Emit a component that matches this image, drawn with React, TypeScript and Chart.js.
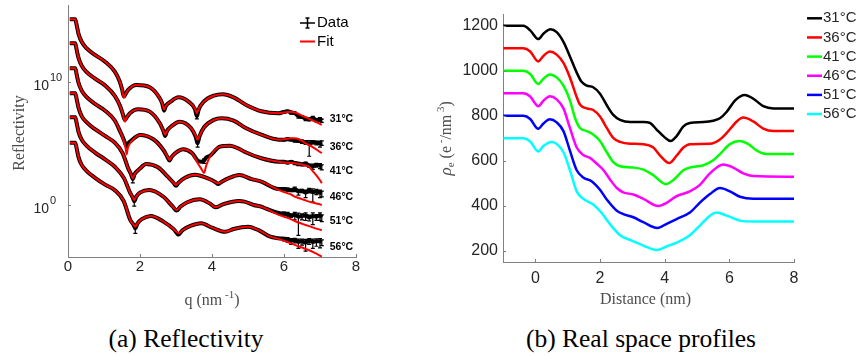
import React, { useEffect, useRef } from "react";
import { Chart, registerables } from "chart.js";

Chart.register(...registerables);

// ---------------- data ----------------
const temperatures = ["31°C", "36°C", "41°C", "46°C", "51°C", "56°C"];

// (a) Reflectivity: q in nm^-1, values as log10(R) (curves offset in the figure)
const q31 = [0.05,0.2,0.24,0.29,0.38,0.52,0.75,1.03,1.3,1.44, 1.5,1.55,1.6,1.67,1.9,2.27,2.55,2.62,2.67,2.72, 2.85,3.07,3.35,3.53,3.58,3.63,3.77,4.05,4.3,4.6, 4.95,5.37,5.85,6.0,6.1,6.2,6.3,6.4,6.5,6.6, 6.7,6.8,6.9,7.0,7.05];
const fit31 = [15.06,15.06,14.6,13.9,13.24,12.7,12.17,11.62,10.81,10.0, 9.4,8.7,9.0,9.33,9.73,9.55,8.65,8.2,7.75,8.05, 8.38,8.73,8.38,7.8,7.44,7.8,8.38,8.86,8.98,8.73, 8.11,7.6,7.44,7.5,7.55,7.57,7.5,7.4,7.25,7.12, 6.98,6.85,6.72,6.58,6.49];
const data31 = [15.06,15.06,14.6,13.9,13.24,12.7,12.17,11.62,10.81,10.0, 9.4,8.8,9.0,9.33,9.73,9.55,8.65,8.2,7.65,8.05, 8.38,8.73,8.38,7.75,7.2,7.75,8.38,8.86,8.98,8.73, 8.11,7.6,7.44,7.55,7.6,7.5,7.45,7.2,7.15,7.0, 6.95,7.05,6.9,6.95,6.85];
const err31 = [0,0,0,0,0,0,0,0,0,0, 0,0,0,0,0,0,0,0,0,0, 0,0,0,0,0.4,0,0,0,0,0, 0,0,0,0.2,0.2,0.25,0.2,0.3,0.25,0.3, 0.25,0.35,0.3,0.35,0.3];

const q36 = [0.05,0.2,0.24,0.29,0.38,0.52,0.75,1.03,1.3,1.45, 1.53,1.58,1.63,1.72,1.95,2.27,2.55,2.65,2.7,2.75, 2.88,3.1,3.42,3.55,3.6,3.65,3.78,4.05,4.27,4.6, 4.95,5.37,5.85,6.0,6.1,6.2,6.3,6.4,6.5,6.6, 6.7,6.8,6.9,7.0,7.05];
const fit36 = [13.11,13.11,12.6,11.95,11.3,10.77,10.25,9.7,8.85,8.0, 7.3,6.75,7.1,7.44,7.76,7.57,6.63,6.0,5.7,6.0, 6.4,6.76,6.22,5.6,5.3,5.6,6.3,6.9,7.03,6.84, 6.22,5.7,5.3,5.33,5.38,5.41,5.41,5.35,5.2,5.0, 4.85,4.7,4.5,4.3,4.2];
const data36 = [13.11,13.11,12.6,11.95,11.3,10.77,10.25,9.7,8.85,8.0, 7.3,6.9,7.1,7.44,7.76,7.57,6.63,6.0,5.6,6.0, 6.4,6.76,6.22,5.5,5.0,5.55,6.3,6.9,7.03,6.84, 6.22,5.7,5.3,5.3,5.35,5.3,5.25,5.2,5.15,5.1, 4.95,5.1,5.05,5.0,5.05];
const err36 = [0,0,0,0,0,0,0,0,0,0, 0,0,0,0,0,0,0,0,0,0, 0,0,0,0,0.5,0,0,0,0,0, 0,0,0,0.2,0.25,0.2,0.3,0.25,0.3,0.35, 0.9,0.3,0.35,0.5,0.4];

const q41 = [0.05,0.2,0.24,0.29,0.38,0.52,0.75,1.03,1.3,1.45, 1.55,1.6,1.63,1.66,1.75,2.0,2.37,2.65,2.76,2.82, 2.88,3.0,3.2,3.45,3.6,3.7,3.78,3.84,3.95,4.22, 4.5,4.76,4.9,5.37,5.85,6.0,6.1,6.2,6.3,6.4, 6.5,6.6,6.7,6.8,6.9,7.0,7.05];
const fit41 = [11.09,11.09,10.6,9.93,9.27,8.75,8.2,7.65,6.85,5.95, 5.2,4.6,4.1,4.6,5.1,5.68,5.33,4.46,3.95,3.65, 3.9,4.25,4.52,4.19,3.4,2.95,2.6,3.2,3.95,4.73, 4.81,4.54,4.32,3.79,3.51,3.45,3.42,3.4,3.38,3.33, 3.28,3.2,3.08,2.75,2.4,2.0,1.76];
const data41 = [11.09,11.09,10.6,9.93,9.27,8.75,8.2,7.65,6.85,5.95, 5.3,4.9,4.75,4.95,5.2,5.68,5.33,4.46,3.9,3.6, 3.9,4.25,4.52,4.19,3.6,3.5,3.6,3.85,4.0,4.73, 4.81,4.54,4.32,3.79,3.51,3.5,3.45,3.5,3.4,3.35, 3.3,3.35,3.2,3.15,3.25,3.2,3.1];
const err41 = [0,0,0,0,0,0,0,0,0,0, 0,0,0,0,0,0,0,0,0,0, 0,0,0,0,0,0,0.4,0,0,0, 0,0,0,0,0,0.2,0.25,0.2,0.25,0.3, 0.25,0.35,0.3,0.45,0.35,0.45,0.45];

const q46 = [0.05,0.2,0.24,0.29,0.38,0.52,0.75,1.03,1.3,1.52, 1.67,1.75,1.8,1.85,2.0,2.17,2.5,2.77,2.93,3.0, 3.07,3.25,3.53,3.87,4.1,4.17,4.25,4.45,4.76,5.1, 5.37,5.85,6.0,6.1,6.2,6.3,6.4,6.5,6.6,6.7, 6.8,6.9,7.0,7.05];
const fit46 = [9.06,9.06,8.6,7.9,7.2,6.7,6.15,5.6,5.05,4.19, 2.98,2.5,2.17,2.5,2.95,3.33,3.06,2.3,1.8,1.62, 1.8,2.2,2.45,2.17,1.85,1.76,1.85,2.15,2.43,2.1, 1.89,1.22,1.05,0.95,0.85,0.67,0.57,0.47,0.37,0.27, 0.2,0.12,0.05,0.0];
const data46 = [9.06,9.06,8.6,7.9,7.2,6.7,6.15,5.6,5.05,4.19, 2.98,2.5,2.1,2.5,2.95,3.33,3.06,2.3,1.8,1.55, 1.8,2.2,2.45,2.17,1.85,1.7,1.85,2.15,2.43,2.1, 1.89,1.3,1.3,1.25,1.2,1.3,1.1,1.15,1.0,1.2, 1.05,1.1,1.0,0.95];
const err46 = [0,0,0,0,0,0,0,0,0,0, 0,0,0.5,0,0,0,0,0,0,0, 0,0,0,0,0,0,0,0,0,0, 0,0,0.25,0.3,0.25,0.4,0.5,0.3,0.6,0.4, 0.85,0.45,0.6,0.5];

const q51 = [0.05,0.2,0.24,0.29,0.38,0.52,0.75,1.03,1.3,1.55, 1.73,1.8,1.84,1.9,2.0,2.26,2.65,2.9,3.02,3.12, 3.3,3.66,3.96,4.1,4.3,4.75,4.9,5.16,5.37,5.5, 5.85,6.0,6.1,6.2,6.3,6.4,6.5,6.6,6.7,6.8, 6.9,7.0,7.05];
const fit51 = [7.11,7.11,6.65,5.95,5.3,4.8,4.25,3.7,3.1,2.2, 0.96,0.6,0.41,0.7,1.0,1.22,0.67,-0.1,-0.4,-0.15, 0.2,0.46,0.08,-0.19,0.05,0.33,0.27,0.0,-0.14,-0.3, -0.8,-0.95,-1.05,-1.17,-1.3,-1.42,-1.52,-1.62,-1.72,-1.82, -1.92,-2.0,-2.05];
const data51 = [7.11,7.11,6.65,5.95,5.3,4.8,4.25,3.7,3.1,2.2, 0.96,0.6,0.3,0.7,1.0,1.22,0.67,-0.1,-0.45,-0.15, 0.2,0.46,0.08,-0.19,0.05,0.33,0.27,0.0,-0.14,-0.3, -0.65,-0.7,-0.75,-0.85,-0.8,-0.95,-0.9,-0.85,-1.0,-0.9, -0.95,-0.85,-1.0];
const err51 = [0,0,0,0,0,0,0,0,0,0, 0,0,0.6,0,0,0,0,0,0,0, 0,0,0,0,0,0,0,0,0,0, 0,0.3,0.4,0.3,0.6,0.97,0.5,0.6,0.5,0.8, 0.5,0.6,0.55];

const q56 = [0.05,0.2,0.24,0.29,0.38,0.52,0.75,1.03,1.3,1.55, 1.73,1.82,1.87,1.93,2.05,2.3,2.65,2.95,3.07,3.18, 3.4,3.7,4.0,4.37,4.6,5.0,5.33,5.6,5.85,6.0, 6.1,6.2,6.3,6.4,6.5,6.6,6.7,6.8,6.9,7.0, 7.05];
const fit56 = [5.05,5.05,4.6,3.9,3.25,2.75,2.2,1.65,1.2,0.3, -1.22,-1.6,-1.76,-1.5,-1.15,-0.89,-1.35,-2.0,-2.3,-2.05, -1.7,-1.48,-1.84,-2.17,-1.95,-1.76,-2.1,-2.55,-2.75,-2.9, -3.0,-3.12,-3.24,-3.35,-3.45,-3.57,-3.67,-3.8,-3.95,-4.1, -4.19];
const data56 = [5.05,5.05,4.6,3.9,3.25,2.75,2.2,1.65,1.2,0.3, -1.22,-1.6,-1.9,-1.5,-1.15,-0.89,-1.35,-2.0,-2.4,-2.05, -1.7,-1.48,-1.84,-2.17,-1.95,-1.76,-2.1,-2.55,-2.7,-2.75, -2.8,-2.9,-2.85,-3.0,-2.95,-3.05,-2.9,-3.0,-2.95,-2.95, -3.0];
const err56 = [0,0,0,0,0,0,0,0,0,0, 0,0,0.6,0,0,0,0,0,0,0, 0,0,0,0,0,0,0,0,0,0.3, 0.4,0.5,0.4,0.7,0.5,0.8,0.5,0.7,0.6,0.7, 0.5];

// temperature annotation anchors (q, log10 R)
const tempLabelQ = 7.27;
const tempLabelLevels = [6.97, 4.7, 2.76, 0.65, -1.3, -3.4];

const reflXTicks = [0, 2, 4, 6, 8];
const reflYExponents = [0, 10];
const reflYMinExp = -4.22;
const reflYMaxExp = 16.22;

// (b) Real space profiles: distance (nm), electron density (e/nm^3, offset)
const d31 = [-0.99,-0.37,-0.16,0.09,0.25,0.47,0.66,0.87,1.07,1.28,1.43,1.59,1.79,2.0,2.21,2.41,2.62,2.93,3.34,3.55,3.75,4.01,4.19,4.37,4.58,4.78,5.2,5.5,5.71,5.92,6.18,6.48,6.74,7.05,7.36,8.0];
const rho31 = [1200,1200,1180,1141,1165,1185,1172,1129,1064,992,951,934,927,898,847,804,782,772,772,768,739,703,688,710,753,768,772,778,789,818,869,893,876,843,833,833];
const d36 = [-0.99,-0.37,-0.16,0.09,0.25,0.45,0.66,0.87,1.07,1.28,1.38,1.59,1.79,2.0,2.21,2.41,2.62,2.93,3.34,3.65,3.86,4.14,4.37,4.58,4.78,5.4,5.71,5.92,6.23,6.43,6.74,7.05,7.36,8.0];
const rho36 = [1100,1100,1086,1042,1066,1086,1072,1035,970,883,850,833,826,797,746,702,684,676,674,659,623,590,623,659,674,676,695,724,775,792,775,743,732,732];
const d41 = [-0.99,-0.37,-0.16,0.09,0.25,0.45,0.66,0.87,1.07,1.23,1.38,1.59,1.79,2.0,2.21,2.41,2.62,3.03,3.34,3.65,4.04,4.27,4.58,4.78,5.2,5.5,5.71,6.02,6.31,6.59,6.85,7.16,8.0];
const rho41 = [1000,1000,986,941,965,984,971,934,869,789,746,732,717,688,638,594,576,570,561,536,496,515,558,570,580,602,630,674,688,674,645,630,630];
const d46 = [-0.99,-0.37,-0.16,0.09,0.25,0.45,0.66,0.87,1.07,1.28,1.48,1.69,1.9,2.11,2.32,2.52,2.72,3.03,3.34,3.8,4.06,4.37,4.78,5.09,5.4,5.81,6.12,6.43,6.74,8.0];
const rho46 = [900,900,886,843,867,887,873,833,746,659,626,613,587,558,515,479,460,450,431,399,413,443,464,493,544,584,570,544,532,529];
const d51 = [-0.99,-0.37,-0.16,0.09,0.25,0.45,0.66,0.87,1.07,1.28,1.48,1.75,2.0,2.21,2.52,2.72,3.03,3.34,3.77,4.06,4.37,4.78,5.09,5.4,5.71,6.02,6.33,6.74,8.0];
const rho51 = [800,800,786,742,766,785,771,732,645,558,526,508,471,428,378,363,349,327,301,320,341,370,414,452,479,464,440,431,431];
const d56 = [-0.99,-0.37,-0.16,0.09,0.25,0.5,0.87,1.07,1.28,1.48,1.79,2.04,2.3,2.62,2.93,3.34,3.75,4.06,4.47,4.78,5.09,5.4,5.61,5.92,6.33,6.74,8.0];
const rho56 = [700,700,686,641,666,684,638,558,464,431,406,370,320,269,248,223,203,219,243,269,312,356,370,356,334,330,330];

const profColors = ["#000000", "#ff0000", "#00ff00", "#ff00ff", "#0000ff", "#00ffff"];
const profXTicks = [0, 2, 4, 6, 8];
const profYTicks = [200, 400, 600, 800, 1000, 1200];

// ---------------- styling ----------------
const SANS = "'Liberation Sans', Arial, Helvetica, sans-serif";
const SERIF = "'Liberation Serif', 'Times New Roman', serif";
const AXIS = "#808080";
const TICKTXT = "#262626";
const TITLETXT = "#4d4d4d";

type Run = { t: string; size: number; dy?: number; italic?: boolean };

function drawRuns(ctx: CanvasRenderingContext2D, runs: Run[], cx: number, cy: number, rot: number) {
  ctx.save();
  ctx.translate(cx, cy);
  if (rot) ctx.rotate(rot);
  const fontOf = (r: Run) => `${r.italic ? "italic " : ""}${r.size}px ${SERIF}`;
  let w = 0;
  for (const r of runs) {
    ctx.font = fontOf(r);
    w += ctx.measureText(r.t).width;
  }
  let x = -w / 2;
  ctx.textBaseline = "middle";
  ctx.textAlign = "left";
  for (const r of runs) {
    ctx.font = fontOf(r);
    ctx.fillText(r.t, x, r.dy || 0);
    x += ctx.measureText(r.t).width;
  }
  ctx.restore();
}

const reflCurves = [
  { q: q31, fit: fit31, data: data31, err: err31 },
  { q: q36, fit: fit36, data: data36, err: err36 },
  { q: q41, fit: fit41, data: data41, err: err41 },
  { q: q46, fit: fit46, data: data46, err: err46 },
  { q: q51, fit: fit51, data: data51, err: err51 },
  { q: q56, fit: fit56, data: data56, err: err56 },
];

const profCurves = [
  { d: d31, rho: rho31 },
  { d: d36, rho: rho36 },
  { d: d41, rho: rho41 },
  { d: d46, rho: rho46 },
  { d: d51, rho: rho51 },
  { d: d56, rho: rho56 },
];

function ReflectivityChart() {
  const ref = useRef<HTMLCanvasElement>(null);
  useEffect(() => {
    const canvas = ref.current;
    if (!canvas) return;
    const datasets: any[] = [];
    reflCurves.forEach((c, i) => {
      datasets.push({
        label: "Fit " + temperatures[i],
        data: c.q.map((q, j) => ({ x: q, y: Math.pow(10, c.fit[j]) })),
        borderColor: "#ff0000",
        borderWidth: 2,
        pointRadius: 0,
        cubicInterpolationMode: "monotone",
        fill: false,
        order: 0,
      });
      datasets.push({
        label: "Data " + temperatures[i],
        data: c.q.map((q, j) => ({ x: q, y: Math.pow(10, c.data[j]) })),
        borderColor: "#000000",
        borderWidth: 4,
        pointRadius: 0,
        cubicInterpolationMode: "monotone",
        fill: false,
        order: 1,
      });
    });

    const decor = {
      id: "reflDecor",
      beforeDatasetsDraw(chart: any) {
        const { ctx, chartArea: a } = chart;
        const xs = chart.scales.x;
        const ys = chart.scales.y;
        ctx.save();
        ctx.beginPath();
        ctx.rect(a.left, a.top, a.right - a.left, a.bottom - a.top);
        ctx.clip();
        ctx.strokeStyle = "#000";
        ctx.lineWidth = 1.2;
        reflCurves.forEach((c) => {
          c.q.forEach((q, j) => {
            const e = c.err[j];
            if (!e) return;
            const v = Math.pow(10, c.data[j]);
            const px = xs.getPixelForValue(q);
            const y1 = ys.getPixelForValue(v * (1 + e));
            const y2 = ys.getPixelForValue(v * (1 - e));
            ctx.beginPath();
            ctx.moveTo(px, y1);
            ctx.lineTo(px, y2);
            ctx.moveTo(px - 2, y1);
            ctx.lineTo(px + 2, y1);
            ctx.moveTo(px - 2, y2);
            ctx.lineTo(px + 2, y2);
            ctx.stroke();
          });
        });
        ctx.restore();
      },
      afterDraw(chart: any) {
        const { ctx, chartArea: a } = chart;
        const xs = chart.scales.x;
        const ys = chart.scales.y;
        ctx.save();
        // inward ticks
        ctx.strokeStyle = AXIS;
        ctx.lineWidth = 1;
        reflXTicks.forEach((v) => {
          const px = Math.round(xs.getPixelForValue(v)) + 0.5;
          ctx.beginPath();
          ctx.moveTo(px, a.bottom);
          ctx.lineTo(px, a.bottom - 3);
          ctx.stroke();
        });
        reflYExponents.forEach((e) => {
          const py = Math.round(ys.getPixelForValue(Math.pow(10, e))) + 0.5;
          ctx.beginPath();
          ctx.moveTo(a.left, py);
          ctx.lineTo(a.left + 3, py);
          ctx.stroke();
        });
        // y tick labels 10^n
        ctx.fillStyle = TICKTXT;
        ctx.textBaseline = "middle";
        reflYExponents.forEach((e) => {
          const py = ys.getPixelForValue(Math.pow(10, e));
          ctx.font = `14px ${SANS}`;
          ctx.textAlign = "right";
          ctx.fillText("10", a.left - 19, py + 4);
          ctx.font = `11px ${SANS}`;
          ctx.textAlign = "left";
          ctx.fillText(String(e), a.left - 18, py - 4);
        });
        // axis titles
        ctx.fillStyle = TITLETXT;
        drawRuns(ctx, [{ t: "Reflectivity", size: 16 }], 20, (a.top + a.bottom) / 2 + 2, -Math.PI / 2);
        drawRuns(
          ctx,
          [
            { t: "q (nm", size: 16 },
            { t: " -1", size: 11, dy: -6 },
            { t: ")", size: 16 },
          ],
          (a.left + a.right) / 2,
          301,
          0
        );
        // temperature labels
        ctx.fillStyle = "#000";
        ctx.font = `bold 10.5px ${SANS}`;
        ctx.textAlign = "left";
        ctx.textBaseline = "middle";
        temperatures.forEach((t, i) => {
          ctx.fillText(t, xs.getPixelForValue(tempLabelQ), ys.getPixelForValue(Math.pow(10, tempLabelLevels[i])));
        });
        // legend
        ctx.strokeStyle = "#000";
        ctx.lineWidth = 1.5;
        ctx.beginPath();
        ctx.moveTo(300, 23);
        ctx.lineTo(315, 23);
        ctx.moveTo(307.5, 18);
        ctx.lineTo(307.5, 28);
        ctx.moveTo(305.5, 18);
        ctx.lineTo(309.5, 18);
        ctx.moveTo(305.5, 28);
        ctx.lineTo(309.5, 28);
        ctx.stroke();
        ctx.strokeStyle = "#ff0000";
        ctx.lineWidth = 2;
        ctx.beginPath();
        ctx.moveTo(300, 41.5);
        ctx.lineTo(315, 41.5);
        ctx.stroke();
        ctx.fillStyle = "#000";
        ctx.font = `15px ${SANS}`;
        ctx.fillText("Data", 317, 23);
        ctx.fillText("Fit", 317, 41.5);
        ctx.restore();
      },
    };

    const chart = new Chart(canvas, {
      type: "line",
      data: { datasets },
      options: {
        animation: false,
        responsive: false,
        maintainAspectRatio: false,
        events: [],
        layout: { padding: { left: 0, top: 5, right: 64, bottom: 0 } },
        plugins: { legend: { display: false }, tooltip: { enabled: false } },
        scales: {
          x: {
            type: "linear",
            min: 0,
            max: 8,
            afterBuildTicks: (s: any) => {
              s.ticks = reflXTicks.map((v) => ({ value: v }));
            },
            afterFit: (s: any) => {
              s.height = 63;
            },
            ticks: {
              font: { family: SANS, size: 15 },
              color: TICKTXT,
              padding: 1,
              maxRotation: 0,
              autoSkip: false,
              callback: (v: any) => String(v),
            },
            grid: { display: false, drawTicks: false },
            border: { display: true, color: AXIS, width: 1 },
          },
          y: {
            type: "logarithmic",
            min: Math.pow(10, reflYMinExp),
            max: Math.pow(10, reflYMaxExp),
            afterBuildTicks: (s: any) => {
              s.ticks = reflYExponents.map((e) => ({ value: Math.pow(10, e) }));
            },
            afterFit: (s: any) => {
              s.width = 68;
            },
            ticks: { display: false },
            grid: { display: false, drawTicks: false },
            border: { display: true, color: AXIS, width: 1 },
          },
        },
      } as any,
      plugins: [decor],
    });
    return () => chart.destroy();
  }, []);
  return <canvas ref={ref} width={420} height={320} style={{ position: "absolute", left: 0, top: 0 }} />;
}

function ProfileChart() {
  const ref = useRef<HTMLCanvasElement>(null);
  useEffect(() => {
    const canvas = ref.current;
    if (!canvas) return;
    const datasets = profCurves.map((c, i) => ({
      label: temperatures[i],
      data: c.d.map((d, j) => ({ x: d, y: c.rho[j] })),
      borderColor: profColors[i],
      borderWidth: 2.5,
      pointRadius: 0,
      cubicInterpolationMode: "monotone",
      fill: false,
    }));

    const decor = {
      id: "profDecor",
      afterDraw(chart: any) {
        const { ctx, chartArea: a } = chart;
        const xs = chart.scales.x;
        const ys = chart.scales.y;
        ctx.save();
        ctx.strokeStyle = AXIS;
        ctx.lineWidth = 1;
        profXTicks.forEach((v) => {
          const px = Math.round(xs.getPixelForValue(v)) + 0.5;
          ctx.beginPath();
          ctx.moveTo(px, a.bottom);
          ctx.lineTo(px, a.bottom - 3);
          ctx.stroke();
        });
        profYTicks.forEach((v) => {
          const py = Math.round(ys.getPixelForValue(v)) + 0.5;
          ctx.beginPath();
          ctx.moveTo(a.left, py);
          ctx.lineTo(a.left + 3, py);
          ctx.stroke();
        });
        // titles
        ctx.fillStyle = TITLETXT;
        drawRuns(ctx, [{ t: "Distance (nm)", size: 16 }], (a.left + a.right) / 2 - 3, 300, 0);
        drawRuns(
          ctx,
          [
            { t: "ρ", size: 17, italic: true },
            { t: "e", size: 11, dy: 4 },
            { t: " (e", size: 16 },
            { t: " -", size: 11, dy: -6 },
            { t: "/nm", size: 16 },
            { t: " 3", size: 11, dy: -6 },
            { t: ")", size: 16 },
          ],
          27,
          (a.top + a.bottom) / 2,
          -Math.PI / 2
        );
        // legend
        ctx.font = `15px ${SANS}`;
        ctx.textAlign = "left";
        ctx.textBaseline = "middle";
        temperatures.forEach((t, i) => {
          const y = 18.3 + i * 19.15;
          ctx.strokeStyle = profColors[i];
          ctx.lineWidth = 2.5;
          ctx.beginPath();
          ctx.moveTo(387, y);
          ctx.lineTo(402, y);
          ctx.stroke();
          ctx.fillStyle = TICKTXT;
          ctx.fillText(t, 403, y);
        });
        ctx.restore();
      },
    };

    const chart = new Chart(canvas, {
      type: "line",
      data: { datasets },
      options: {
        animation: false,
        responsive: false,
        maintainAspectRatio: false,
        events: [],
        layout: { padding: { left: 0, top: 7, right: 68, bottom: 0 } },
        plugins: { legend: { display: false }, tooltip: { enabled: false } },
        scales: {
          x: {
            type: "linear",
            min: -1,
            max: 8,
            afterBuildTicks: (s: any) => {
              s.ticks = profXTicks.map((v) => ({ value: v }));
            },
            afterFit: (s: any) => {
              s.height = 58;
            },
            ticks: {
              font: { family: SANS, size: 16 },
              color: TICKTXT,
              padding: 7,
              maxRotation: 0,
              autoSkip: false,
              callback: (v: any) => String(v),
            },
            grid: { display: false, drawTicks: false },
            border: { display: true, color: AXIS, width: 1 },
          },
          y: {
            type: "linear",
            min: 150,
            max: 1250,
            afterBuildTicks: (s: any) => {
              s.ticks = profYTicks.map((v) => ({ value: v }));
            },
            afterFit: (s: any) => {
              s.width = 83;
            },
            ticks: {
              font: { family: SANS, size: 16 },
              color: TICKTXT,
              padding: 5,
              autoSkip: false,
              callback: (v: any) => String(v),
            },
            grid: { display: false, drawTicks: false },
            border: { display: true, color: AXIS, width: 1 },
          },
        },
      } as any,
      plugins: [decor],
    });
    return () => chart.destroy();
  }, []);
  return <canvas ref={ref} width={442} height={320} style={{ position: "absolute", left: 420, top: 0 }} />;
}

const captionStyle: React.CSSProperties = {
  position: "absolute",
  top: 325.6,
  width: 320,
  textAlign: "center",
  fontFamily: SERIF,
  fontSize: "25.5px",
  lineHeight: "25.5px",
  color: "#000",
  whiteSpace: "nowrap",
};

export default function App() {
  return (
    <div
      style={{
        position: "absolute",
        left: 0,
        top: 0,
        width: 862,
        height: 356,
        background: "#ffffff",
        overflow: "hidden",
      }}
    >
      <ReflectivityChart />
      <ProfileChart />
      <div style={{ ...captionStyle, left: 186 - 160 }}>(a) Reflectivity</div>
      <div style={{ ...captionStyle, left: 641 - 160 }}>(b) Real space profiles</div>
    </div>
  );
}
